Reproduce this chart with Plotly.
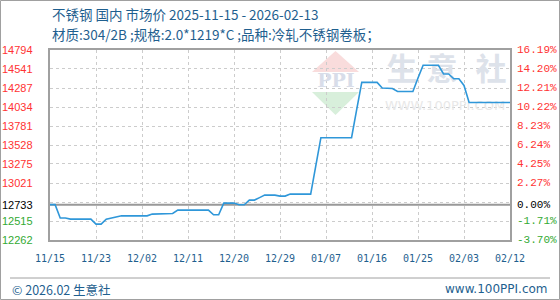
import plotly.graph_objects as go
import pandas as pd

# ---------------- data ----------------
start_date = "2025-11-15"
end_date = "2026-02-13"
prices = [
    12733, 12733, 12555, 12555, 12540, 12540, 12540, 12540, 12540, 12474,
    12474, 12540, 12555, 12572, 12584, 12584, 12584, 12584, 12584, 12584,
    12607, 12607, 12607, 12615, 12615, 12660, 12660, 12660, 12660, 12660,
    12660, 12660, 12598, 12598, 12754, 12754, 12754, 12731, 12731, 12794,
    12794, 12827, 12860, 12860, 12860, 12847, 12847, 12874, 12874, 12874,
    12874, 12874, 13250, 13625, 13625, 13625, 13625, 13625, 13625, 13625,
    14000, 14362, 14362, 14362, 14362, 14287, 14285, 14280, 14241, 14241,
    14241, 14241, 14420, 14590, 14590, 14590, 14590, 14474, 14474, 14411,
    14411, 14322, 14095, 14095, 14095, 14095, 14095, 14095, 14095, 14095,
    14095,
]
x_tick_labels = ["11/15", "11/23", "12/02", "12/11", "12/20", "12/29",
                 "01/07", "01/16", "01/25", "02/03", "02/12"]
grid_values = [14794, 14541, 14287, 14034, 13781, 13528, 13275, 13021,
               12768, 12515, 12262]
left_labels = ["14794", "14541", "14287", "14034", "13781", "13528", "13275",
               "13021", "12733", "12515", "12262"]
right_labels = ["16.19%", "14.20%", "12.21%", "10.22%", "8.23%", "6.24%",
                "4.25%", "2.27%", "0.00%", "-1.71%", "-3.70%"]
base_price = prices[0]

dates = pd.date_range(start_date, end_date, freq="D")
tick_dates = pd.date_range(start_date, periods=len(x_tick_labels), freq="9D")

# ---------------- layout helpers ----------------
W, H = 560, 300
L, R, T, B = 50, 510, 50, 240


def xp(px):
    return (px - L) / (R - L)


def yp(py):
    return (B - py) / (B - T)


TITLE_C = "#1f5f8f"
RED = "#ff3333"
GREEN = "#33aa33"
FRAME = "#a0a0a0"
GRID = "#cccccc"

fig = go.Figure()

# watermark (base pixel axes, drawn beneath the data subplot)
fig.add_trace(go.Scatter(
    x=[402, 442, 491], y=[72, 72, 72], mode="text", text=["生", "意", "社"],
    textfont=dict(family="Noto Sans CJK SC", size=31, color="#dde2ea", weight=700),
    xaxis="x", yaxis="y", hoverinfo="skip", showlegend=False))
fig.add_trace(go.Scatter(
    x=[336], y=[82], mode="text", text=["PPI"],
    textfont=dict(family="DejaVu Serif", size=19, color="#d8dde9", weight=700),
    xaxis="x", yaxis="y", hoverinfo="skip", showlegend=False))
fig.add_trace(go.Scatter(
    x=[445], y=[107], mode="text", text=["WWW.100PPI.COM"],
    textfont=dict(family="DejaVu Sans", size=13, color="#e8e8e8"),
    xaxis="x", yaxis="y", hoverinfo="skip", showlegend=False))

# data line
fig.add_trace(go.Scatter(
    x=dates, y=prices, mode="lines",
    line=dict(color="#2f97d9", width=1.6),
    xaxis="x2", yaxis="y2", hoverinfo="skip", showlegend=False))

shapes = [
    # logo triangles
    dict(type="path", xref="paper", yref="paper", layer="below",
         path=f"M {xp(312)},{yp(72)} L {xp(335.5)},{yp(51)} L {xp(359)},{yp(72)} Z",
         fillcolor="#f9dcdc", line=dict(width=0)),
    dict(type="path", xref="paper", yref="paper", layer="below",
         path=f"M {xp(312)},{yp(92)} L {xp(359)},{yp(92)} L {xp(335.5)},{yp(115)} Z",
         fillcolor="#d8efdb", line=dict(width=0)),
    # base price line
    dict(type="line", xref="paper", yref="y2", x0=0, x1=1, y0=base_price, y1=base_price,
         line=dict(color="#999999", width=2), layer="below"),
    # outer border
    dict(type="rect", xref="paper", yref="paper",
         x0=xp(0.5), x1=xp(559.5), y0=yp(0.5), y1=yp(299.5),
         line=dict(color=FRAME, width=1)),
    # footer separator
    dict(type="line", xref="paper", yref="paper",
         x0=xp(10), x1=xp(550), y0=yp(278), y1=yp(278),
         line=dict(color=FRAME, width=1)),
]

annotations = [
    dict(text="不锈钢 国内 市场价 2025-11-15 - 2026-02-13", xref="paper", yref="paper",
         x=xp(50), y=yp(14), xanchor="left", yanchor="middle", showarrow=False,
         font=dict(family="Noto Sans CJK SC", size=13.5, color=TITLE_C)),
    dict(text="材质:304/2B ;规格:2.0*1219*C ;品种:冷轧不锈钢卷板；", xref="paper", yref="paper",
         x=xp(50), y=yp(34), xanchor="left", yanchor="middle", showarrow=False,
         font=dict(family="Noto Sans CJK SC", size=13.5, color=TITLE_C)),
    dict(text="© 2026.02 生意社", xref="paper", yref="paper",
         x=xp(10), y=yp(289), xanchor="left", yanchor="middle", showarrow=False,
         font=dict(family="Noto Sans CJK SC", size=12.5, color=TITLE_C)),
    dict(text="www.100PPI.com", xref="paper", yref="paper",
         x=xp(550), y=yp(289), xanchor="right", yanchor="middle", showarrow=False,
         font=dict(family="DejaVu Sans", size=12, color=TITLE_C)),
]

for gv, lt, rt in zip(grid_values, left_labels, right_labels):
    if lt == f"{base_price}":
        yv, col = base_price, "#000000"
    else:
        yv = gv
        col = RED if gv > base_price else GREEN
    annotations.append(dict(text=lt, xref="paper", yref="y2", x=xp(35), y=yv,
                            xanchor="right", yanchor="middle", showarrow=False,
                            font=dict(family="Liberation Sans", size=11, color=col)))
    annotations.append(dict(text=rt, xref="paper", yref="y2", x=xp(515), y=yv,
                            xanchor="left", yanchor="middle", showarrow=False,
                            font=dict(family="Liberation Mono", size=11, color=col)))

fig.update_layout(
    width=W, height=H,
    margin=dict(l=L, r=W - R, t=T, b=H - B, pad=0),
    paper_bgcolor="white", plot_bgcolor="white",
    showlegend=False,
    xaxis=dict(range=[L, R], visible=False, fixedrange=True),
    yaxis=dict(range=[B, T], visible=False, fixedrange=True),
    xaxis2=dict(overlaying="x", anchor="y2", type="date",
                range=[start_date, end_date],
                tickvals=tick_dates, ticktext=x_tick_labels,
                showgrid=True, gridcolor=GRID, gridwidth=1, griddash="3px,3px",
                showline=True, linecolor=FRAME, linewidth=2, mirror=True,
                ticks="", zeroline=False, ticklabelstandoff=8,
                tickfont=dict(family="DejaVu Sans Mono", size=10, color=TITLE_C)),
    yaxis2=dict(overlaying="y", anchor="x2", side="left",
                range=[grid_values[-1], grid_values[0]],
                tickvals=grid_values, showticklabels=False,
                showgrid=True, gridcolor=GRID, gridwidth=1, griddash="3px,3px",
                showline=True, linecolor=FRAME, linewidth=2, mirror=True,
                ticks="", zeroline=False),
    shapes=shapes,
    annotations=annotations,
)

fig.write_html("out.html")
